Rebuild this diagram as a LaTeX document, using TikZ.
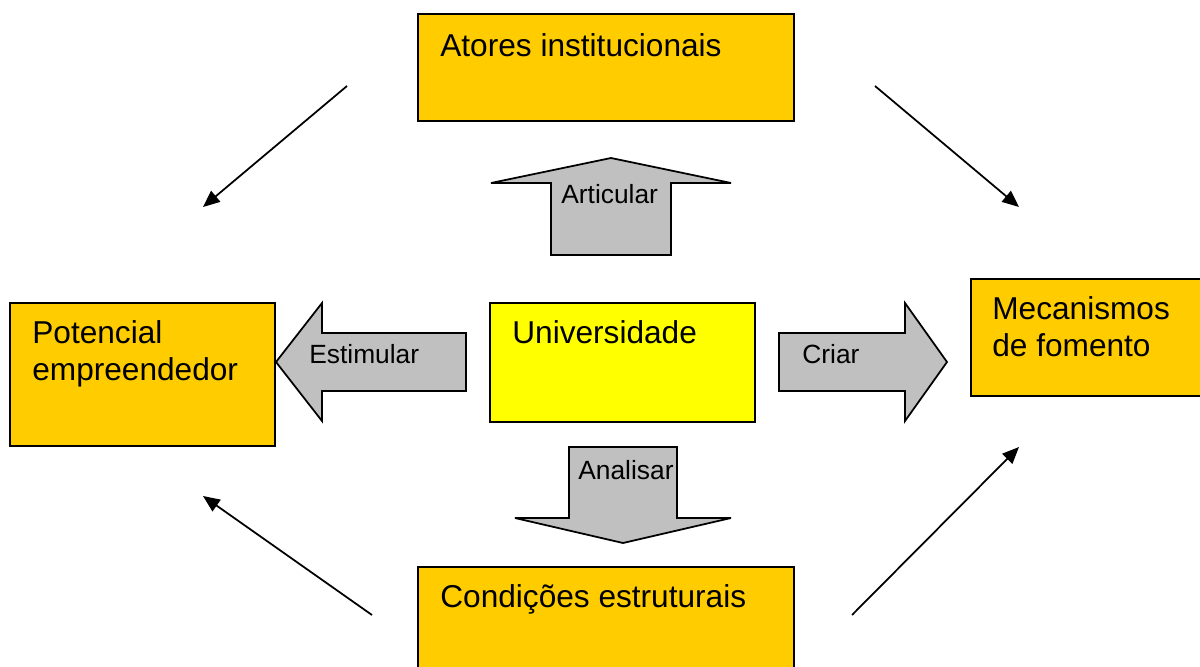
\documentclass[tikz,border=0pt]{standalone}
\usepackage{fontspec}
\setmainfont{Liberation Sans}
\usetikzlibrary{calc,arrows.meta}
\definecolor{boxorange}{HTML}{FFCC00}
\definecolor{boxyellow}{HTML}{FFFF00}
\definecolor{arrowgray}{HTML}{C0C0C0}
\tikzset{
	box/.style={draw=black, line width=1pt, fill=boxorange, rectangle, inner sep=0pt},
	bigtext/.style={font=\fontsize{18}{21}\selectfont, anchor=base west, inner sep=0pt, align=left},
	smalltext/.style={font=\fontsize{15}{18}\selectfont, anchor=base west, inner sep=0pt},
	blockarrow/.style={draw=black, line width=1pt, fill=arrowgray, line join=miter, miter limit=4},
	thinarrow/.style={line width=1pt, -{Triangle[length=9.5pt,width=8pt]}}
}

\begin{document}
\begin{tikzpicture}[x=0.02cm, y=-0.02cm]
		%%%%% START %%%%%
		\useasboundingbox (0,0) rectangle (1200,666);
		
		% boxes
		\node[box, minimum width=7.52cm, minimum height=2.14cm] (atores) at (606,67.5) {};
		\node[box, minimum width=5.3cm, minimum height=2.86cm] (potencial) at (142.5,374.5) {};
		\node[box, fill=boxyellow, minimum width=5.3cm, minimum height=2.38cm] (univ) at (622.5,362.5) {};
		\node[box, minimum width=5.3cm, minimum height=2.34cm] (mecanismos) at (1103.5,337.5) {};
		\node[box, minimum width=7.52cm, minimum height=2.14cm] (condicoes) at (606,620.5) {};
		
		% multi-line text sits on its last baseline
		\node[bigtext] (atoresT) at (440,56) {Atores institucionais};
		\node[bigtext] (potencialT) at (32,380) {Potencial\\empreendedor};
		\node[bigtext] (univT) at (512,343) {Universidade};
		\node[bigtext] (mecanismosT) at (992,356) {Mecanismos\\de fomento};
		\node[bigtext] (condicoesT) at (440,607) {Condições estruturais};
		
		% block arrows
		\draw[blockarrow] (551,255) -- (551,183) -- (491,183) -- (611,158) -- (731,183) -- (671,183) -- (671,255) -- cycle;
		\draw[blockarrow] (466,333) -- (322,333) -- (322,303) -- (276,362) -- (322,421) -- (322,391) -- (466,391) -- cycle;
		\draw[blockarrow] (779,333) -- (905,333) -- (905,303) -- (947,362) -- (905,421) -- (905,391) -- (779,391) -- cycle;
		\draw[blockarrow] (569,447) -- (677,447) -- (677,518) -- (731,518) -- (623,543) -- (515,518) -- (569,518) -- cycle;
		
		\node[smalltext] (articular) at (561,203) {Articular};
		\node[smalltext] (estimular) at (309,363) {Estimular};
		\node[smalltext] (criar) at (802,363) {Criar};
		\node[smalltext] (analisar) at (578,479) {Analisar};
		
		% thin arrows
		\coordinate (a1) at (347,86);   \coordinate (b1) at (203,207);
		\coordinate (a2) at (875,86);   \coordinate (b2) at (1019,207);
		\coordinate (a3) at (372,615);  \coordinate (b3) at (203,496);
		\coordinate (a4) at (852,615);  \coordinate (b4) at (1019,447);
		\draw[thinarrow] (a1) -- (b1);
		\draw[thinarrow] (a2) -- (b2);
		\draw[thinarrow] (a3) -- (b3);
		\draw[thinarrow] (a4) -- (b4);
		
		%%%%% END %%%%%
\end{tikzpicture}
\end{document}
